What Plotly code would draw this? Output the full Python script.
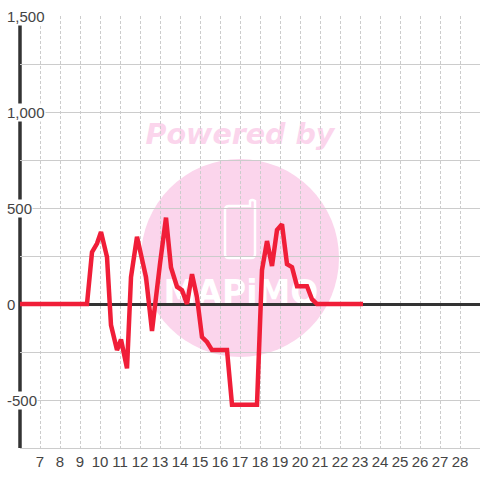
import plotly.graph_objects as go

hours = [6, 9.35, 9.6, 9.85, 10.05, 10.35, 10.55, 10.85, 11.05, 11.35, 11.55, 11.85, 12.3, 12.6, 13.0, 13.3, 13.55, 13.85, 14.1, 14.35, 14.6, 14.85, 15.1, 15.35, 15.6, 16.35, 16.6, 17.85, 18.1, 18.35, 18.6, 18.85, 19.1, 19.35, 19.6, 19.85, 20.35, 20.6, 20.85, 23.15]
values = [0, 0, 270, 315, 375, 245, -110, -240, -185, -335, 140, 350, 140, -140, 210, 450, 190, 90, 72, 0, 155, 35, -172, -198, -240, -240, -525, -525, 177, 328, 198, 385, 415, 208, 192, 93, 93, 25, 0, 0]
x_ticks = list(range(7, 29))
y_grid = [-750, -500, -250, 0, 250, 500, 750, 1000, 1250, 1500]
y_labels = {1500: "1,500", 1000: "1,000", 500: "500", 0: "0", -500: "-500"}

FONT = "Liberation Sans, Arial, sans-serif"
PINK = "#fbd5ec"
W = 480.0
T, B, L = 16.0, 448.0, 20.0
H = B - T
PW = W - L


def px(v):
    return (v - L) / PW


def py(v):
    return (B - v) / H


fig = go.Figure()
fig.add_trace(go.Scatter(x=hours, y=values, mode="lines",
                         line=dict(color="#f01e38", width=4.5, shape="linear"),
                         hoverinfo="skip", showlegend=False, cliponaxis=False))

shapes = [
    dict(type="circle", xref="paper", yref="paper", layer="below",
         x0=px(141), x1=px(339), y0=py(357), y1=py(159), fillcolor=PINK, line_width=0),
    dict(type="rect", xref="paper", yref="paper", layer="below",
         x0=px(140), x1=px(342), y0=py(272), y1=py(308), line_width=0, fillcolor="rgba(0,0,0,0)",
         label=dict(text="<b>MAPiMO</b>", font=dict(family="DejaVu Sans", size=33, color="white"),
                    textposition="middle center", padding=0)),
    dict(type="rect", xref="paper", yref="paper", layer="below",
         x0=px(138), x1=px(342), y0=py(116), y1=py(148), line_width=0, fillcolor="rgba(0,0,0,0)",
         label=dict(text="<b><i>Powered by</i></b>", font=dict(family="DejaVu Sans", size=28.5, color=PINK),
                    textposition="middle center")),
    dict(type="path", xref="paper", yref="paper", layer="below",
         path=f"M {px(229)} {py(206)} L {px(250)} {py(206)} L {px(250)} {py(201)} Q {px(252)} {py(199)} {px(255)} {py(201)} "
              f"L {px(255)} {py(254)} Q {px(255)} {py(258)} {px(251)} {py(258)} L {px(229)} {py(258)} "
              f"Q {px(225)} {py(258)} {px(225)} {py(254)} L {px(225)} {py(210)} Q {px(225)} {py(206)} {px(229)} {py(206)} Z",
         line=dict(color="white", width=2.5)),
    dict(type="line", xref="paper", yref="paper", layer="below",
         x0=0, x1=0, y0=0, y1=py(24), line=dict(color="#333333", width=3.5)),
]

annotations = [
    dict(xref="paper", yref="y", x=px(6), y=v, text=t, xanchor="left", yanchor="middle",
         showarrow=False, bgcolor="white", borderpad=0,
         font=dict(family=FONT, size=15, color="#444444"))
    for v, t in y_labels.items()
]

fig.update_layout(
    width=480, height=480, autosize=False,
    margin=dict(l=20, r=0, t=16, b=32),
    paper_bgcolor="white", plot_bgcolor="white",
    shapes=shapes, annotations=annotations, showlegend=False,
    xaxis=dict(range=[6, 29], tickmode="array", tickvals=x_ticks, ticktext=[str(t) for t in x_ticks],
               showgrid=True, gridcolor="#cccccc", griddash="3px,2px", gridwidth=1,
               showline=True, linecolor="#cccccc", linewidth=1, zeroline=False, ticks="", ticklen=0,
               tickfont=dict(family=FONT, size=15, color="#444444")),
    yaxis=dict(range=[-750, 1500], tickmode="array", tickvals=y_grid, showticklabels=False,
               showgrid=True, gridcolor="#cccccc", gridwidth=1, ticks="",
               zeroline=True, zerolinecolor="#333333", zerolinewidth=3, showline=False),
)
fig.write_html("out.html", config=dict(displayModeBar=False),
               post_script="document.body.style.margin='0';")
